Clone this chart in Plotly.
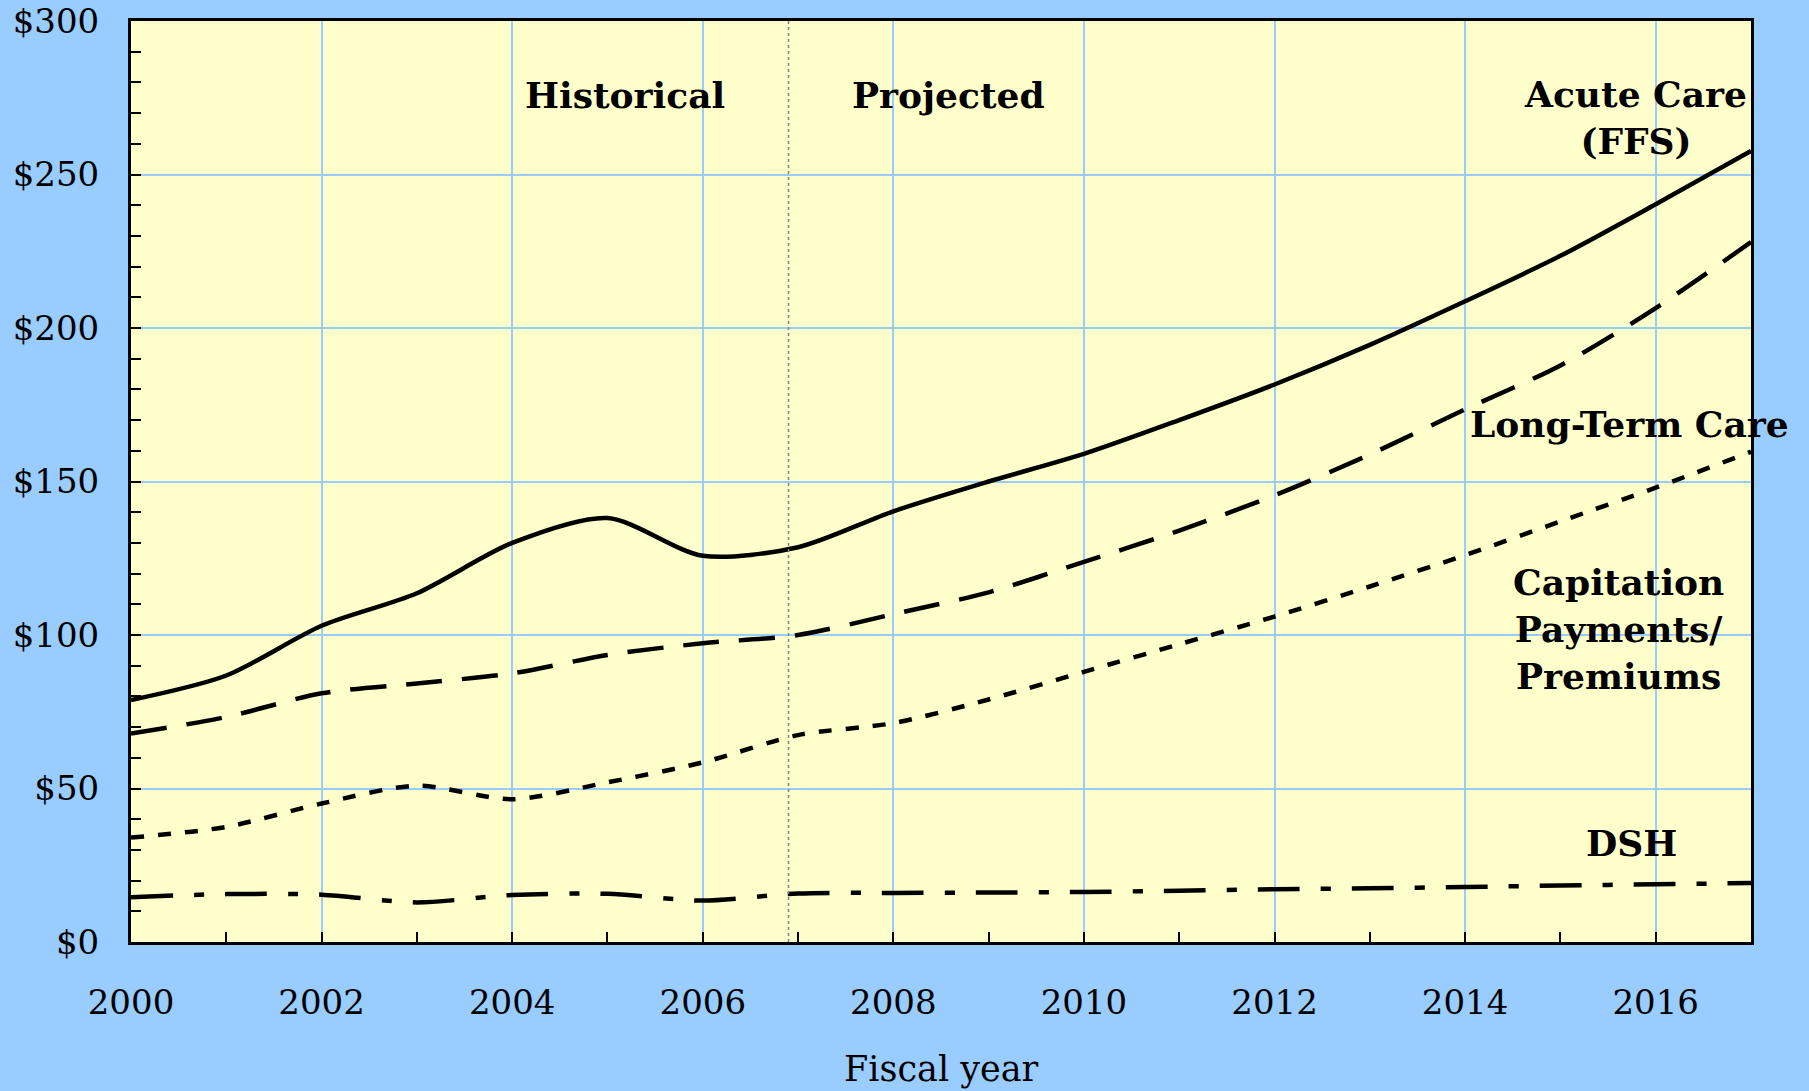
import plotly.graph_objects as go

# fiscal years and spending (billions of dollars)
years = list(range(2000, 2018))

acute_care = [78.8, 86.8, 103.0, 113.6, 130.0, 138.1, 125.8, 128.6, 140.3, 150.0,
              159.0, 170.0, 181.6, 194.5, 208.7, 223.5, 240.3, 257.7]
long_term_care = [67.9, 73.3, 81.0, 84.2, 87.5, 93.5, 97.3, 100.0, 106.8, 113.9,
                  123.8, 134.0, 145.5, 158.8, 173.5, 187.8, 206.5, 228.0]
capitation = [34.0, 37.5, 45.1, 50.9, 46.5, 52.0, 58.5, 67.4, 71.3, 79.0,
              88.0, 97.0, 106.0, 115.8, 126.0, 137.0, 148.0, 159.7]
dsh = [14.6, 15.6, 15.4, 12.9, 15.3, 15.7, 13.5, 15.8, 16.0, 16.1,
       16.3, 16.7, 17.2, 17.5, 17.9, 18.4, 18.8, 19.2]

x_ticks = list(range(2000, 2017, 2))
y_ticks = [0, 50, 100, 150, 200, 250, 300]
y_tick_labels = ["$" + str(v) for v in y_ticks]

projection_start = 2006.9

SERIF = "DejaVu Serif, Liberation Serif, serif"
BLUE = "#99ccff"

fig = go.Figure()

series = [
    (acute_care, "Acute Care (FFS)", "solid"),
    (long_term_care, "Long-Term Care", "36px,20px"),
    (capitation, "Capitation Payments/Premiums", "13px,14px"),
    (dsh, "DSH", "42px,21px,10px,21px"),
]
for values, name, dash in series:
    fig.add_trace(go.Scatter(x=years, y=values, name=name, mode="lines",
                             line=dict(color="black", width=4.5, dash=dash,
                                       shape="spline", smoothing=0.8)))

fig.add_shape(type="line", xref="x", yref="paper", x0=projection_start, x1=projection_start,
              y0=0, y1=1, line=dict(color="gray", width=1.5, dash="dot"))

labels = [
    ("Historical", 2005.18, 276),
    ("Projected", 2008.58, 276),
    ("Acute Care<br>(FFS)", 2015.79, 268.5),
    ("Long-Term Care", 2015.73, 168.6),
    ("Capitation<br>Payments/<br>Premiums", 2015.61, 102.1),
    ("DSH", 2015.75, 32.3),
]
for text, lx, ly in labels:
    fig.add_annotation(x=lx, y=ly, text="<b>" + text + "</b>", showarrow=False,
                       xanchor="center", yanchor="middle",
                       font=dict(family=SERIF, size=36, color="black"))

fig.add_annotation(x=0.5, xref="paper", y=0, yref="paper", yshift=-127,
                   text="Fiscal year", showarrow=False, xanchor="center", yanchor="middle",
                   font=dict(family=SERIF, size=35, color="black"))

fig.update_layout(
    width=1809, height=1091,
    margin=dict(l=131, r=58, t=21, b=149),
    paper_bgcolor=BLUE, plot_bgcolor="#ffffcc",
    showlegend=False,
    font=dict(family=SERIF, size=34, color="black"),
)
fig.update_xaxes(range=[2000, 2017], tickvals=x_ticks, ticks="inside", ticklen=10,
                 tickwidth=2, tickcolor="black", showline=True, linecolor="black",
                 linewidth=3, mirror=True, showgrid=True, gridcolor=BLUE, gridwidth=2,
                 zeroline=False, ticklabelstandoff=28, automargin=False,
                 minor=dict(dtick=1, ticks="inside", ticklen=10, tickwidth=2,
                            tickcolor="black", showgrid=False))
fig.update_yaxes(range=[0, 300], tickvals=y_ticks, ticktext=y_tick_labels, ticks="inside",
                 ticklen=10, tickwidth=2, tickcolor="black", showline=True,
                 linecolor="black", linewidth=3, mirror=True, showgrid=True,
                 gridcolor=BLUE, gridwidth=2, zeroline=False, ticklabelstandoff=22,
                 automargin=False,
                 minor=dict(dtick=10, ticks="inside", ticklen=10, tickwidth=2,
                            tickcolor="black", showgrid=False))

# drop the page margin so the figure fills the window exactly
fig.write_html("out.html", config={"displayModeBar": False},
               post_script="document.body.style.margin='0';")
